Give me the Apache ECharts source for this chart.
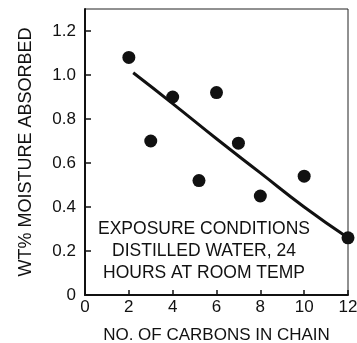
<!DOCTYPE html>
<html>
<head>
<meta charset="utf-8">
<script src="https://cdn.jsdelivr.net/npm/echarts@6/dist/echarts.min.js"></script>
<style>html,body{margin:0;padding:0;background:#fff}#c{width:357px;height:343px}</style>
</head>
<body>
<div id="c"></div>
<script>
// Measured points: number of carbons vs wt% moisture absorbed
var carbons = [2, 3, 4, 5.2, 6, 7, 8, 10, 12];
var moisture = [1.08, 0.70, 0.90, 0.52, 0.92, 0.69, 0.45, 0.54, 0.26];
// Fitted trend curve
var curveX = [2.2, 4, 6, 8, 10, 12];
var curveY = [1.01, 0.87, 0.71, 0.555, 0.40, 0.26];
var xTicks = [0, 2, 4, 6, 8, 10, 12];
var yTicks = [0, 0.2, 0.4, 0.6, 0.8, 1.0, 1.2];
var xName = 'NO. OF CARBONS IN CHAIN';
var yName = 'WT% MOISTURE ABSORBED';
var noteLines = ['EXPOSURE CONDITIONS', 'DISTILLED WATER, 24', 'HOURS AT ROOM TEMP'];

var FONT = 'Liberation Sans';
var chart = echarts.init(document.getElementById('c'));
chart.setOption({
  animation: false,
  backgroundColor: '#fff',
  grid: {left: 85, right: 9, top: 9, bottom: 48, show: true, borderColor: '#222', borderWidth: 1,
    outerBoundsMode: 'none', containLabel: false},
  xAxis: {
    type: 'value', min: xTicks[0], max: xTicks[xTicks.length - 1], interval: 2,
    name: xName, nameLocation: 'middle', nameGap: 32,
    nameTextStyle: {fontFamily: FONT, fontSize: 17, color: '#111'},
    axisLine: {show: true, lineStyle: {color: '#111', width: 2}},
    axisTick: {show: true, inside: true, length: 5, lineStyle: {color: '#111', width: 1.5}},
    axisLabel: {fontFamily: FONT, fontSize: 17, color: '#111', margin: 4},
    splitLine: {show: false}
  },
  yAxis: {
    type: 'value', min: yTicks[0], max: 1.3, interval: 0.2,
    name: yName, nameLocation: 'middle', nameGap: 50, nameRotate: 90,
    nameTextStyle: {fontFamily: FONT, fontSize: 18, color: '#111'},
    axisLine: {show: true, lineStyle: {color: '#111', width: 2}},
    axisTick: {show: true, inside: true, length: 6, lineStyle: {color: '#111', width: 1.5}},
    axisLabel: {fontFamily: FONT, fontSize: 17, color: '#111', margin: 9, showMaxLabel: false,
      formatter: function (v) { return v === 0 ? '0' : v.toFixed(1); }},
    splitLine: {show: false}
  },
  graphic: [{
    type: 'text', x: 204, y: 218,
    style: {text: noteLines.join('\n'), fontFamily: FONT, fontSize: 17.5, fill: '#111',
      lineHeight: 22, align: 'center', verticalAlign: 'top'},
    z: 10
  }],
  series: [{
    type: 'line', data: curveX.map(function (x, i) { return [x, curveY[i]]; }),
    smooth: true, showSymbol: false, lineStyle: {color: '#111', width: 3}, z: 2
  }, {
    type: 'scatter', data: carbons.map(function (x, i) { return [x, moisture[i]]; }),
    symbolSize: 13, itemStyle: {color: '#111', opacity: 1}, z: 3
  }]
});
</script>
</body>
</html>
